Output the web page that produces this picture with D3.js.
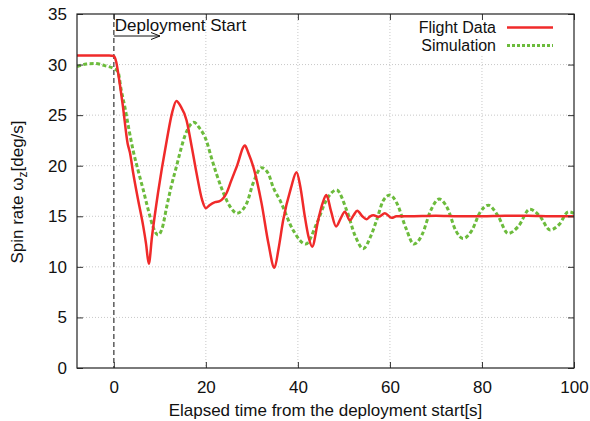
<!DOCTYPE html>
<html><head><meta charset="utf-8">
<script src="https://cdn.jsdelivr.net/npm/d3@7"></script>
<style>
body{margin:0;background:#fff;}
text{font-family:"Liberation Sans",Arial,Helvetica,sans-serif;fill:#111;}
</style></head>
<body><svg id="c" width="590" height="421"></svg>
<script>
const xTicks = [0,20,40,60,80,100];
const yTicks = [0,5,10,15,20,25,30,35];
const flightT = [-8,-1,0,0.5,1.0,2.0,3.0,3.5,4.2,5.2,6.4,7.0,7.6,8.3,9.6,11.5,12.7,13.6,14.5,15.8,17,18,19.2,20,20.8,22,23,24.5,25.5,26.7,28.5,29.2,30.3,32.1,33.6,34.9,35.8,36.8,38.5,39.7,40.5,41.5,42.3,43.1,44.4,45.3,46.2,47.2,48.3,49.3,50.2,51.3,52.1,52.9,54,54.9,55.7,56.4,57.6,58.9,60.4,61.4,64,70,75,80,85,90,95,100];
const flightV = [30.9,30.9,30.85,30.3,29.0,25.8,22.2,21.3,19.3,16.8,14.0,12.3,10.3,13.0,17.3,22.5,25.3,26.4,25.9,24.5,21.7,19.2,16.6,15.8,16.1,16.4,16.5,17.3,18.5,19.9,22.0,21.3,19.9,16.3,12.3,9.9,11.8,14.6,17.8,19.35,18.0,15.0,13.0,12.0,14.6,16.2,17.1,15.5,14.0,14.8,15.45,14.6,15.1,15.55,15.0,14.7,15.0,15.1,14.95,15.3,14.85,15.0,15.0,15.05,15.0,15.0,15.05,15.05,15.0,15.0];
const simT = [-8,-6,-4.1,-2,0,0.9,1.6,2.4,3.2,4.2,5.3,6.4,7.5,8.5,9.6,10.5,11.5,12.5,13.6,14.5,15.4,16.4,17.4,18.5,20.1,21.2,22.3,23.4,24.5,25.5,26.7,28.8,30.3,32.1,33.6,34.6,36.1,39.0,41.7,44.1,46.2,48.4,50.6,52.5,54.2,55.8,57.1,58.5,60,61.5,63.5,65.2,67,68.8,70.7,72.5,74.3,75.9,77.8,79.6,81.4,83.4,85.7,87.9,90.4,92.6,94.8,96.8,98.8,100];
const simV = [29.8,30.05,30.1,29.9,29.6,29.3,27.5,25.8,23.8,21.5,19.5,17.6,15.6,14.0,13.15,13.8,15.95,18.0,19.9,21.5,22.9,23.9,24.3,23.8,22.5,20.8,19.2,17.8,16.6,15.8,15.3,16.2,18.3,19.8,19.2,17.9,16.6,13.6,12.25,14.3,16.6,17.6,15.6,13.0,11.8,13.0,14.6,16.5,17.1,16.3,13.8,12.25,13.2,15.5,16.7,15.8,13.6,12.8,13.6,15.4,16.1,15.1,13.3,14.0,15.7,15.0,13.65,14.2,15.45,15.3];
const seriesNames = ["Flight Data","Simulation"];
const annotationText = "Deployment Start";
const xTitle = "Elapsed time from the deployment start[s]";

const svg = d3.select("#c");
const L=77, R=574, T=14, B=368;
const x = d3.scaleLinear().domain([-8,100]).range([L,R]);
const y = d3.scaleLinear().domain([0,35]).range([B,T]);
const red="#f02a2a", green="#6cbb3c";

svg.append("defs").append("clipPath").attr("id","cp").append("rect")
  .attr("x",L).attr("y",T).attr("width",R-L).attr("height",B-T);

// grid
const g = svg.append("g");
g.selectAll(".gx").data(xTicks.filter(d=>d>0&&d<100)).enter().append("line")
  .attr("x1",d=>x(d)).attr("x2",d=>x(d)).attr("y1",T).attr("y2",B)
  .attr("stroke","#c8c8c8").attr("stroke-width",1).attr("stroke-dasharray","1,2");
g.selectAll(".gy").data(yTicks.filter(d=>d>0&&d<35)).enter().append("line")
  .attr("x1",L).attr("x2",R).attr("y1",d=>y(d)).attr("y2",d=>y(d))
  .attr("stroke","#c8c8c8").attr("stroke-width",1).attr("stroke-dasharray","1,2");

// legend background
svg.append("rect").attr("x",395).attr("y",T+2).attr("width",172).attr("height",40).attr("fill","#fff");

// deployment dashed line
svg.append("line").attr("x1",x(0)).attr("x2",x(0)).attr("y1",T).attr("y2",B)
  .attr("stroke","#666").attr("stroke-width",1.6).attr("stroke-dasharray","5,3");

// lines
const line = d3.line().x(d=>x(d[0])).y(d=>y(d[1])).curve(d3.curveMonotoneX);
const lines = svg.append("g").attr("clip-path","url(#cp)");
lines.append("path").datum(simT.map((t,i)=>[t,simV[i]])).attr("d",line)
  .attr("fill","none").attr("stroke",green).attr("stroke-width",3).attr("stroke-dasharray","4,2.5");
lines.append("path").datum(flightT.map((t,i)=>[t,flightV[i]])).attr("d",line)
  .attr("fill","none").attr("stroke",red).attr("stroke-width",2.5).attr("stroke-linejoin","round");

// axes
const fs=17;
const ax = svg.append("g");
ax.append("g").attr("transform",`translate(0,${B})`)
  .call(d3.axisBottom(x).tickValues(xTicks).tickSize(-6).tickPadding(13).tickFormat(d3.format("d")))
  .call(s=>{s.select(".domain").remove();s.selectAll("text").attr("font-size",fs).attr("font-family","Liberation Sans, Arial, sans-serif").attr("fill","#111");s.selectAll("line").attr("stroke","#333");});
ax.append("g").attr("transform",`translate(0,${T})`)
  .call(d3.axisTop(x).tickValues(xTicks).tickSize(-6).tickFormat(""))
  .call(s=>{s.select(".domain").remove();s.selectAll("line").attr("stroke","#333");});
ax.append("g").attr("transform",`translate(${L},0)`)
  .call(d3.axisLeft(y).tickValues(yTicks).tickSize(-6).tickPadding(10).tickFormat(d3.format("d")))
  .call(s=>{s.select(".domain").remove();s.selectAll("text").attr("font-size",fs).attr("font-family","Liberation Sans, Arial, sans-serif").attr("fill","#111");s.selectAll("line").attr("stroke","#333");});
ax.append("g").attr("transform",`translate(${R},0)`)
  .call(d3.axisRight(y).tickValues(yTicks).tickSize(-6).tickFormat(""))
  .call(s=>{s.select(".domain").remove();s.selectAll("line").attr("stroke","#333");});
svg.append("rect").attr("x",L).attr("y",T).attr("width",R-L).attr("height",B-T)
  .attr("fill","none").attr("stroke","#222").attr("stroke-width",1.2);

// annotation
svg.append("text").attr("x",x(0)+1).attr("y",31).attr("font-size",fs).text(annotationText);
svg.append("line").attr("x1",x(0)).attr("x2",160).attr("y1",36).attr("y2",36).attr("stroke","#111").attr("stroke-width",1);
svg.append("path").attr("d","M151,32.5 L160,36 L151,39.5").attr("fill","none").attr("stroke","#111").attr("stroke-width",1);

// legend
const leg = svg.append("g");
[[seriesNames[0],red,null,2.5,27.5],[seriesNames[1],green,"3,2",3,45.5]].forEach(([nm,c,da,w,yy])=>{
  leg.append("text").attr("x",496).attr("y",yy+5.5).attr("text-anchor","end").attr("font-size",16).text(nm);
  const l=leg.append("line").attr("x1",507).attr("x2",553).attr("y1",yy).attr("y2",yy).attr("stroke",c).attr("stroke-width",w);
  if(da) l.attr("stroke-dasharray",da);
});

// titles
svg.append("text").attr("x",(L+R)/2).attr("y",416).attr("text-anchor","middle").attr("font-size",fs).text(xTitle);
const yt = svg.append("text").attr("transform","translate(23,192) rotate(-90)").attr("text-anchor","middle").attr("font-size",fs);
yt.append("tspan").text("Spin rate ω");
yt.append("tspan").attr("dy",4).attr("font-size",12).text("z");
yt.append("tspan").attr("dy",-4).text("[deg/s]");
</script></body></html>
